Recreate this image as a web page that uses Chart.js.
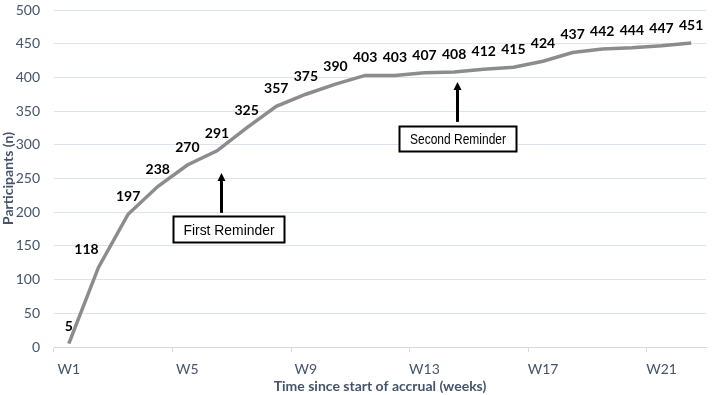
<!DOCTYPE html>
<html>
<head>
<meta charset="utf-8">
<script src="https://cdn.jsdelivr.net/npm/chart.js@4.4.1/dist/chart.umd.min.js"></script>
<style>
  html, body { margin: 0; padding: 0; background: #fff; }
  #wrap { width: 712px; height: 395px; position: relative; }
</style>
</head>
<body>
<div id="wrap"><canvas id="accrualChart"></canvas></div>
<script>
// semaines
const weeks = ['W1','W2','W3','W4','W5','W6','W7','W8','W9','W10','W11',
               'W12','W13','W14','W15','W16','W17','W18','W19','W20','W21','W22'];
// participants cumulés
const participants = [5, 118, 197, 238, 270, 291, 325, 357, 375, 390, 403,
                      403, 407, 408, 412, 415, 424, 437, 442, 444, 447, 451];
const yTicks = [0, 50, 100, 150, 200, 250, 300, 350, 400, 450, 500];
// rappels: position sur l'axe x (index de semaine) et plage en valeurs
const reminders = [
    { text: 'First Reminder',  at: 5.13, tip: 258, base: 199, boxTop: 195, boxBottom: 156, boxFrom: 3.5, boxTo: 7.25 },
    { text: 'Second Reminder', at: 13.1, tip: 393, base: 334, boxTop: 328, boxBottom: 291, boxFrom: 11.13, boxTo: 15.08 }
];

const axisColor = '#44546a';

// étiquettes de données au-dessus des points
const dataLabels = {
    id: 'dataLabels',
    afterDatasetsDraw(chart) {
        const ctx = chart.ctx;
        const meta = chart.getDatasetMeta(0);
        ctx.save();
        ctx.font = 'bold 14px Lato, "Liberation Sans", sans-serif';
        ctx.fillStyle = '#000';
        ctx.textAlign = 'center';
        ctx.textBaseline = 'middle';
        meta.data.forEach((pt, i) => {
            const dx = i === 1 ? -12 : 0;
            ctx.fillText(String(participants[i]), pt.x + dx, pt.y - 17.5);
        });
        ctx.restore();
    }
};

// flèches et boîtes des rappels
const reminderNotes = {
    id: 'reminderNotes',
    afterDatasetsDraw(chart) {
        const ctx = chart.ctx;
        const xs = chart.scales.x, ys = chart.scales.y;
        ctx.save();
        reminders.forEach(r => {
            const x = Math.round(xs.getPixelForValue(r.at)) + 0.5;
            const yTip = ys.getPixelForValue(r.tip);
            const yBase = ys.getPixelForValue(r.base);
            ctx.strokeStyle = '#000';
            ctx.fillStyle = '#000';
            ctx.lineWidth = 3;
            ctx.beginPath();
            ctx.moveTo(x, yBase);
            ctx.lineTo(x, yTip + 6);
            ctx.stroke();
            ctx.beginPath();
            ctx.moveTo(x, yTip);
            ctx.lineTo(x - 4, yTip + 8);
            ctx.lineTo(x + 4, yTip + 8);
            ctx.closePath();
            ctx.fill();

            const bx1 = Math.round(xs.getPixelForValue(r.boxFrom)) + 0.5;
            const bx2 = Math.round(xs.getPixelForValue(r.boxTo)) + 0.5;
            const by1 = Math.round(ys.getPixelForValue(r.boxTop)) + 0.5;
            const by2 = Math.round(ys.getPixelForValue(r.boxBottom)) + 0.5;
            ctx.fillStyle = '#fff';
            ctx.fillRect(bx1, by1, bx2 - bx1, by2 - by1);
            ctx.lineWidth = 2;
            ctx.strokeRect(bx1, by1, bx2 - bx1, by2 - by1);

            // texte étroit (style Arial Narrow)
            ctx.fillStyle = '#000';
            ctx.font = '15px "Liberation Sans", sans-serif';
            ctx.textAlign = 'center';
            ctx.textBaseline = 'middle';
            const target = (bx2 - bx1) * 0.82;
            const w = ctx.measureText(r.text).width;
            const k = Math.min(1, target / w);
            ctx.save();
            ctx.translate((bx1 + bx2) / 2, (by1 + by2) / 2 + 1);
            ctx.scale(k, 1);
            ctx.fillText(r.text, 0, 0);
            ctx.restore();
        });
        ctx.restore();
    }
};

new Chart(document.getElementById('accrualChart').getContext('2d'), {
    type: 'line',
    data: {
        labels: weeks,
        datasets: [{
            data: participants,
            borderColor: '#8c8c8c',
            borderWidth: 3.5,
            pointRadius: 0,
            tension: 0,
            fill: false
        }]
    },
    options: {
        responsive: true,
        maintainAspectRatio: false,
        animation: false,
        layout: { padding: { top: 10, right: 6, left: 0, bottom: 0 } },
        plugins: {
            legend: { display: false },
            tooltip: { enabled: false }
        },
        scales: {
            x: {
                offset: true,
                afterFit: (scale) => { scale.height = 48; },
                grid: {
                    offset: true,
                    drawOnChartArea: false,
                    drawTicks: true,
                    tickLength: 5,
                    color: (c) => c.index % 4 === 0 ? '#d9d9d9' : 'rgba(0,0,0,0)'
                },
                border: { color: '#d9d9d9', width: 1 },
                ticks: {
                    autoSkip: false,
                    maxRotation: 0,
                    padding: 9,
                    color: axisColor,
                    font: { family: 'Lato, "Liberation Sans", sans-serif', size: 14 },
                    callback: (v, i) => i % 4 === 0 ? weeks[i] : ''
                },
                title: {
                    display: true,
                    text: 'Time since start of accrual (weeks)',
                    color: axisColor,
                    padding: { top: 0, bottom: 0 },
                    font: { family: 'Lato, "Liberation Sans", sans-serif', size: 14, weight: 'bold' }
                }
            },
            y: {
                min: 0,
                max: 500,
                afterFit: (scale) => {
                    scale.width = 54;
                    scale.paddingTop = 0;
                    scale.paddingBottom = 0;
                },
                afterBuildTicks: (scale) => { scale.ticks = yTicks.map(v => ({ value: v })); },
                grid: { color: '#dde3ea', lineWidth: 1, drawTicks: false },
                border: { display: false },
                ticks: {
                    padding: 14,
                    color: axisColor,
                    font: { family: 'Lato, "Liberation Sans", sans-serif', size: 14 }
                },
                title: {
                    display: true,
                    text: 'Participants (n)',
                    color: axisColor,
                    padding: { top: 0, bottom: 0 },
                    font: { family: 'Lato, "Liberation Sans", sans-serif', size: 14, weight: 'bold' }
                }
            }
        }
    },
    plugins: [dataLabels, reminderNotes]
});
</script>
</body>
</html>
